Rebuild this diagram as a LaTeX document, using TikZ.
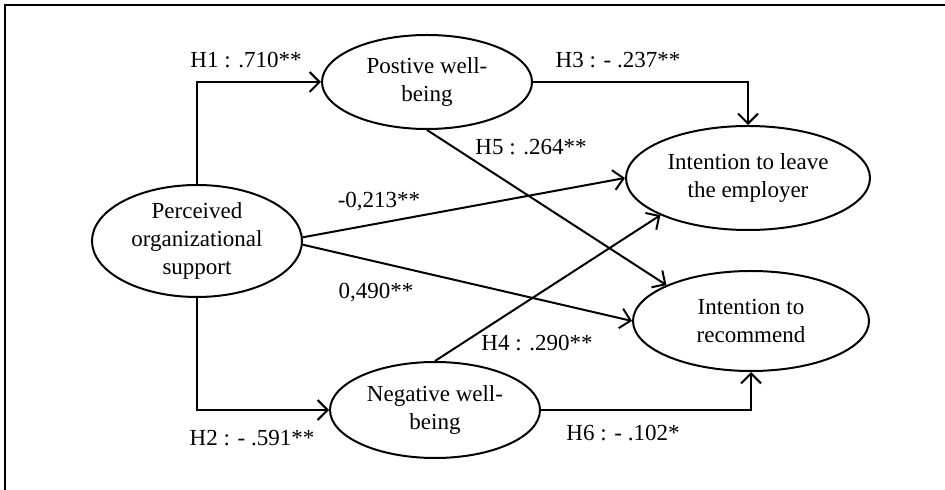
\documentclass[tikz,border=0pt]{standalone}
\usepackage{fontspec}
\setmainfont{Liberation Serif}
\usetikzlibrary{shapes,arrows.meta}

\tikzset{
    construct/.style={ellipse, draw, line width=1pt, inner sep=0pt, align=center},
    path/.style={line width=1pt, -{Straight Barb[length=5pt,width=10pt,line width=1pt]}},
    coef/.style={inner sep=0pt}
}

\begin{document}
\begin{tikzpicture} [x=0.5pt, y=-0.5pt, font=\fontsize{11.5}{14}\selectfont]
    \useasboundingbox (0,0) rectangle (945,490);
    \draw[line width=1pt] (945,5) -- (5,5) -- (5,490);

    \node[construct, minimum width=105pt, minimum height=56pt] (pos) at (197,241)
        {Perceived\\organizational\\support};
    \node[construct, minimum width=105pt, minimum height=47pt] (pwb) at (427,82)
        {Postive well-\\being};
    \node[construct, minimum width=105pt, minimum height=48pt] (nwb) at (435,410)
        {Negative well-\\being};
    \node[construct, minimum width=122pt, minimum height=52pt] (ile) at (748,178)
        {Intention to leave\\the employer};
    \node[construct, minimum width=118pt, minimum height=50pt] (ir) at (751,321)
        {Intention to\\recommend};

    %%paths
    \draw[path] (pos.north) |- (pwb.west);
    \draw[path] (pos.south) |- (nwb.west);
    \draw[path] (pwb.east) -| (ile.north);
    \draw[path] (nwb.east) -| (ir.south);
    \draw[path] (pwb.south) -- (ir.157);
    \draw[path] (nwb.north) -- (ile.203);
    \draw[path] (pos.2) -- (ile.west);
    \draw[path] (pos.-2) -- (ir.west);

    %%coefficients
    \node[coef] (h1) at (246,60) {H1 : .710**};
    \node[coef] (h2) at (252,438) {H2 : - .591**};
    \node[coef] (h3) at (618,60) {H3 : - .237**};
    \node[coef] (h4) at (537,343) {H4 : .290**};
    \node[coef] (h5) at (531,147) {H5 : .264**};
    \node[coef] (h6) at (623,433) {H6 : - .102*};
    \node[coef] (dle) at (379,202) {-0,213**};
    \node[coef] (dre) at (376,293) {0,490**};
\end{tikzpicture}
\end{document}
